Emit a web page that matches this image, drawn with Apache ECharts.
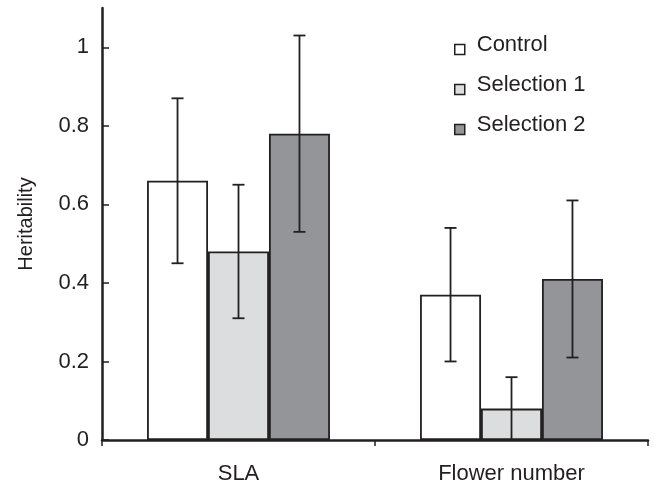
<!DOCTYPE html>
<html>
<head>
<meta charset="utf-8">
<script src="https://cdn.jsdelivr.net/npm/echarts@6/dist/echarts.min.js"></script>
<style>html,body{margin:0;padding:0;background:#fff;}#c{width:654px;height:485px;}</style>
</head>
<body>
<div id="c"></div>
<script>
var categories = ['SLA', 'Flower number'];
var seriesNames = ['Control', 'Selection 1', 'Selection 2'];
var controlValues = [0.66, 0.37];
var sel1Values = [0.48, 0.08];
var sel2Values = [0.78, 0.41];
var controlLow = [0.45, 0.20];
var controlHigh = [0.87, 0.54];
var sel1Low = [0.31, 0.00];
var sel1High = [0.65, 0.16];
var sel2Low = [0.53, 0.21];
var sel2High = [1.03, 0.61];
var yTicks = [0, 0.2, 0.4, 0.6, 0.8, 1];

var ink = '#231f20';
var colors = ['#ffffff', '#dcdddf', '#939598'];
var values = [controlValues, sel1Values, sel2Values];
var lows = [controlLow, sel1Low, sel2Low];
var highs = [controlHigh, sel1High, sel2High];
var gapFrac = 0.33;
var FONT = 'Liberation Sans, Arial, Helvetica, sans-serif';

var series = [];
values.forEach(function (v, i) {
  series.push({
    name: seriesNames[i], type: 'bar', data: v,
    barGap: '0%', barCategoryGap: '33%',
    itemStyle: { color: colors[i], borderColor: ink, borderWidth: 1.8 },
    z: 2
  });
});
values.forEach(function (v, i) {
  var data = categories.map(function (c, k) { return [k, lows[i][k], highs[i][k]]; });
  series.push({
    type: 'custom', data: data, z: 5, silent: true,
    renderItem: function (params, api) {
      var k = api.value(0);
      var band = api.size([1, 0])[0];
      var bw = band * (1 - gapFrac) / 3;
      var lo = api.coord([k, api.value(1)]);
      var hi = api.coord([k, api.value(2)]);
      var x = lo[0] + (i - 1) * bw;
      var cap = 6;
      var st = { stroke: ink, lineWidth: 1.8 };
      return { type: 'group', children: [
        { type: 'line', shape: { x1: x, y1: lo[1], x2: x, y2: hi[1] }, style: st },
        { type: 'line', shape: { x1: x - cap, y1: hi[1], x2: x + cap, y2: hi[1] }, style: st },
        { type: 'line', shape: { x1: x - cap, y1: lo[1], x2: x + cap, y2: lo[1] }, style: st }
      ]};
    }
  });
});

var chart = echarts.init(document.getElementById('c'));
chart.setOption({
  animation: false,
  backgroundColor: '#fff',
  textStyle: { fontFamily: FONT },
  grid: { left: 102, right: 6, top: 8, bottom: 44 },
  legend: {
    data: seriesNames, orient: 'vertical', left: 454, top: 34, padding: 0,
    icon: 'path://M0,0M0,9L10,9L10,19L0,19Z', itemWidth: 10, itemHeight: 19, itemGap: 18,
    textStyle: { fontSize: 22, lineHeight: 22, color: '#231f20', fontFamily: FONT, padding: [0, 0, 0, 7] },
    itemStyle: { borderColor: ink, borderWidth: 1.5 }
  },
  xAxis: {
    type: 'category', data: categories,
    axisLine: { lineStyle: { color: ink, width: 2.5 } },
    axisTick: { show: true, length: 6, inside: false, lineStyle: { color: ink, width: 1.5 } },
    axisLabel: { fontSize: 22, color: '#231f20', margin: 23 }
  },
  yAxis: {
    type: 'value', min: 0, max: 1.1,
    name: 'Heritability', nameLocation: 'middle', nameGap: 66,
    nameTextStyle: { fontSize: 20, color: '#231f20' },
    splitLine: { show: false },
    axisLine: { show: true, lineStyle: { color: ink, width: 2.5 } },
    axisTick: { show: true, inside: true, length: 7, customValues: yTicks, lineStyle: { color: ink, width: 1.5 } },
    axisLabel: { fontSize: 22, color: '#231f20', margin: 13, customValues: yTicks,
      formatter: function (v) { return String(v); } }
  },
  series: series
});
</script>
</body>
</html>
